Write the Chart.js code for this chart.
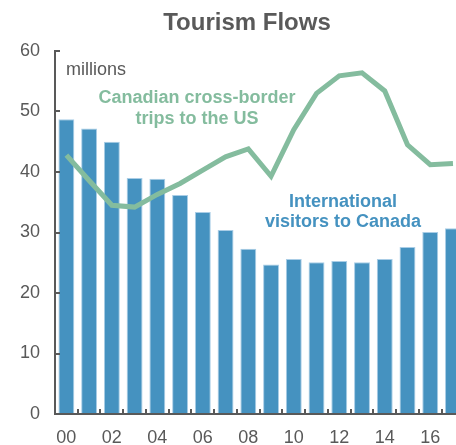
<!DOCTYPE html>
<html>
<head>
<meta charset="utf-8">
<script src="https://cdn.jsdelivr.net/npm/chart.js@4/dist/chart.umd.min.js"></script>
<style>
  html, body { margin: 0; padding: 0; background: #fff; overflow: hidden; }
  #wrap { width: 466px; height: 445px; }
</style>
</head>
<body>
<div id="wrap"><canvas id="tourism"></canvas></div>
<script>
// years 2000-2017, shown as two-digit labels
var years = ['00','01','02','03','04','05','06','07','08','09','10','11','12','13','14','15','16','17'];
// international visitors to Canada, millions
var visitors = [48.7, 47.2, 45.0, 39.0, 38.9, 36.2, 33.4, 30.4, 27.3, 24.7, 25.6, 25.1, 25.3, 25.1, 25.6, 27.6, 30.1, 30.7];
// Canadian cross-border trips to the US, millions
var crossBorder = [42.8, 38.6, 34.5, 34.2, 36.3, 38.1, 40.3, 42.5, 43.8, 39.3, 47.0, 53.0, 55.9, 56.4, 53.4, 44.5, 41.2, 41.4];
var yTicks = [0, 10, 20, 30, 40, 50, 60];

var GREY = '#595959';
var BLUE = '#4592c0';
var GREEN = '#84bc9e';
var FONT = '"Liberation Sans", Arial, sans-serif';

// title, notes and inward tick marks
var decor = {
    id: 'decor',
    afterDatasetsDraw: function(chart)
    {
        var ctx = chart.ctx;
        var x = chart.scales.x, y = chart.scales.y;
        ctx.save();
        ctx.strokeStyle = GREY;
        ctx.lineWidth = 2;
        ctx.beginPath();
        // x axis ticks at category boundaries, pointing up
        for (var i = 1; i < years.length; i++) {
            var px = Math.round((x.getPixelForValue(i - 1) + x.getPixelForValue(i)) / 2);
            ctx.moveTo(px, y.bottom);
            ctx.lineTo(px, y.bottom - 5);
        }
        // y axis ticks pointing right
        yTicks.forEach(function(v) {
            var py = Math.round(y.getPixelForValue(v));
            ctx.moveTo(x.left, py);
            ctx.lineTo(x.left + 5, py);
        });
        ctx.stroke();
        // axis lines
        ctx.beginPath();
        ctx.moveTo(x.left, y.top - 1);
        ctx.lineTo(x.left, y.bottom + 1);
        ctx.moveTo(x.left - 1, y.bottom);
        ctx.lineTo(x.right, y.bottom);
        ctx.stroke();

        ctx.textAlign = 'center';
        ctx.textBaseline = 'middle';
        ctx.fillStyle = GREY;
        ctx.font = 'bold 24px ' + FONT;
        ctx.fillText('Tourism Flows', 247, 23);

        ctx.textAlign = 'left';
        ctx.font = '18px ' + FONT;
        ctx.fillText('millions', 66, 70);

        ctx.textAlign = 'center';
        ctx.font = 'bold 18px ' + FONT;
        ctx.fillStyle = GREEN;
        ctx.fillText('Canadian cross-border', 197, 98);
        ctx.fillText('trips to the US', 197, 119);
        ctx.fillStyle = BLUE;
        ctx.fillText('International', 343, 202);
        ctx.fillText('visitors to Canada', 343, 222);
        ctx.restore();
    }
};

var chart = new Chart(document.getElementById('tourism'), {
    type: 'bar',
    data: {
        labels: years,
        datasets: [
            {
                type: 'line',
                label: 'Canadian cross-border trips to the US',
                data: crossBorder,
                borderColor: GREEN,
                borderWidth: 5,
                pointRadius: 0,
                tension: 0,
                order: 0
            },
            {
                label: 'International visitors to Canada',
                data: visitors,
                backgroundColor: BLUE,
                borderColor: '#a9cde6',
                borderWidth: 1,
                borderSkipped: 'bottom',
                barPercentage: 0.7,
                categoryPercentage: 1,
                order: 1
            }
        ]
    },
    options: {
        responsive: true,
        maintainAspectRatio: false,
        animation: false,
        layout: { padding: { top: 51, right: 1, left: 0, bottom: 0 } },
        plugins: {
            legend: { display: false },
            tooltip: { enabled: false }
        },
        scales: {
            x: {
                grid: { display: false, drawTicks: false },
                border: { display: false },
                afterFit: function(scale) { scale.height = 31; },
                ticks: {
                    autoSkip: false,
                    maxRotation: 0,
                    padding: 13,
                    color: GREY,
                    font: { family: FONT, size: 18 },
                    callback: function(val, idx) { return idx % 2 === 0 ? years[idx] : ''; }
                }
            },
            y: {
                min: 0,
                max: 60,
                afterFit: function(scale) { scale.width = 55; },
                afterBuildTicks: function(scale) {
                    scale.ticks = yTicks.map(function(v) { return { value: v }; });
                },
                grid: { display: false, drawTicks: false },
                border: { display: false },
                ticks: {
                    padding: 15,
                    color: GREY,
                    font: { family: FONT, size: 18 }
                }
            }
        }
    },
    plugins: [decor]
});
</script>
</body>
</html>
